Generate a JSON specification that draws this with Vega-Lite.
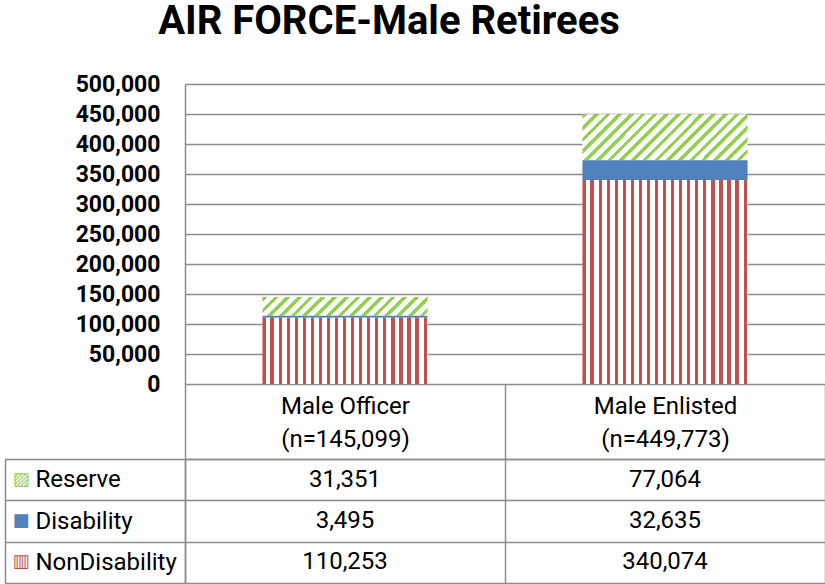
{
  "$schema": "https://vega.github.io/schema/vega-lite/v6.json",
  "background": "white",
  "padding": {"left": 4, "top": 2, "right": 0, "bottom": 0},
  "spacing": -13,
  "title": {"text": "AIR FORCE-Male Retirees", "font": "Roboto", "fontSize": 40, "fontWeight": "bold", "color": "#000000", "anchor": "middle", "dx": -26, "offset": 31},
  "data": {"values": [
    {"group": "Male Officer\n(n=145,099)", "series": "Reserve", "value": 31351, "rank": 1},
    {"group": "Male Officer\n(n=145,099)", "series": "Disability", "value": 3495, "rank": 2},
    {"group": "Male Officer\n(n=145,099)", "series": "NonDisability", "value": 110253, "rank": 3},
    {"group": "Male Enlisted\n(n=449,773)", "series": "Reserve", "value": 77064, "rank": 1},
    {"group": "Male Enlisted\n(n=449,773)", "series": "Disability", "value": 32635, "rank": 2},
    {"group": "Male Enlisted\n(n=449,773)", "series": "NonDisability", "value": 340074, "rank": 3}
  ]},
  "vconcat": [
    {
      "width": 640,
      "height": 300,
      "mark": {"type": "bar", "strokeWidth": 0},
      "encoding": {
        "x": {"field": "group", "type": "nominal", "sort": null, "axis": null, "scale": {"paddingInner": 0.484, "paddingOuter": 0.242}},
        "y": {"field": "value", "type": "quantitative", "stack": "zero", "scale": {"domain": [0, 500000], "nice": false},
          "axis": {"values": [0, 50000, 100000, 150000, 200000, 250000, 300000, 350000, 400000, 450000, 500000], "labelExpr": "format(datum.value, ',')", "title": null, "grid": true, "gridColor": "#8C8C8C", "gridWidth": 1.5, "domain": true, "domainColor": "#8C8C8C", "domainWidth": 1.5, "ticks": false, "tickSize": 0, "labelPadding": 25, "labelFont": "Roboto", "labelFontSize": 23, "labelFontWeight": "bold", "labelColor": "#000000", "labelOverlap": false}},
        "detail": {"field": "series"},
        "order": {"field": "rank", "sort": "descending"},
        "fill": {
          "condition": [
            {"test": "datum.series === 'NonDisability'", "value": {"gradient": "linear", "x1": 0, "y1": 0, "x2": 1, "y2": 0, "stops": [
              {"offset": 0, "color": "#C0504D"}, {"offset": 0.0195, "color": "#C0504D"}, {"offset": 0.0195, "color": "#FFFFFF"}, {"offset": 0.0488, "color": "#FFFFFF"},
              {"offset": 0.0488, "color": "#C0504D"}, {"offset": 0.0683, "color": "#C0504D"}, {"offset": 0.0683, "color": "#FFFFFF"}, {"offset": 0.0976, "color": "#FFFFFF"},
              {"offset": 0.0976, "color": "#C0504D"}, {"offset": 0.1171, "color": "#C0504D"}, {"offset": 0.1171, "color": "#FFFFFF"}, {"offset": 0.1463, "color": "#FFFFFF"},
              {"offset": 0.1463, "color": "#C0504D"}, {"offset": 0.1658, "color": "#C0504D"}, {"offset": 0.1658, "color": "#FFFFFF"}, {"offset": 0.1951, "color": "#FFFFFF"},
              {"offset": 0.1951, "color": "#C0504D"}, {"offset": 0.2146, "color": "#C0504D"}, {"offset": 0.2146, "color": "#FFFFFF"}, {"offset": 0.2439, "color": "#FFFFFF"},
              {"offset": 0.2439, "color": "#C0504D"}, {"offset": 0.2634, "color": "#C0504D"}, {"offset": 0.2634, "color": "#FFFFFF"}, {"offset": 0.2927, "color": "#FFFFFF"},
              {"offset": 0.2927, "color": "#C0504D"}, {"offset": 0.3122, "color": "#C0504D"}, {"offset": 0.3122, "color": "#FFFFFF"}, {"offset": 0.3415, "color": "#FFFFFF"},
              {"offset": 0.3415, "color": "#C0504D"}, {"offset": 0.3610, "color": "#C0504D"}, {"offset": 0.3610, "color": "#FFFFFF"}, {"offset": 0.3902, "color": "#FFFFFF"},
              {"offset": 0.3902, "color": "#C0504D"}, {"offset": 0.4097, "color": "#C0504D"}, {"offset": 0.4097, "color": "#FFFFFF"}, {"offset": 0.4390, "color": "#FFFFFF"},
              {"offset": 0.4390, "color": "#C0504D"}, {"offset": 0.4585, "color": "#C0504D"}, {"offset": 0.4585, "color": "#FFFFFF"}, {"offset": 0.4878, "color": "#FFFFFF"},
              {"offset": 0.4878, "color": "#C0504D"}, {"offset": 0.5073, "color": "#C0504D"}, {"offset": 0.5073, "color": "#FFFFFF"}, {"offset": 0.5366, "color": "#FFFFFF"},
              {"offset": 0.5366, "color": "#C0504D"}, {"offset": 0.5561, "color": "#C0504D"}, {"offset": 0.5561, "color": "#FFFFFF"}, {"offset": 0.5854, "color": "#FFFFFF"},
              {"offset": 0.5854, "color": "#C0504D"}, {"offset": 0.6049, "color": "#C0504D"}, {"offset": 0.6049, "color": "#FFFFFF"}, {"offset": 0.6341, "color": "#FFFFFF"},
              {"offset": 0.6341, "color": "#C0504D"}, {"offset": 0.6536, "color": "#C0504D"}, {"offset": 0.6536, "color": "#FFFFFF"}, {"offset": 0.6829, "color": "#FFFFFF"},
              {"offset": 0.6829, "color": "#C0504D"}, {"offset": 0.7024, "color": "#C0504D"}, {"offset": 0.7024, "color": "#FFFFFF"}, {"offset": 0.7317, "color": "#FFFFFF"},
              {"offset": 0.7317, "color": "#C0504D"}, {"offset": 0.7512, "color": "#C0504D"}, {"offset": 0.7512, "color": "#FFFFFF"}, {"offset": 0.7805, "color": "#FFFFFF"},
              {"offset": 0.7805, "color": "#C0504D"}, {"offset": 0.8000, "color": "#C0504D"}, {"offset": 0.8000, "color": "#FFFFFF"}, {"offset": 0.8293, "color": "#FFFFFF"},
              {"offset": 0.8293, "color": "#C0504D"}, {"offset": 0.8488, "color": "#C0504D"}, {"offset": 0.8488, "color": "#FFFFFF"}, {"offset": 0.8780, "color": "#FFFFFF"},
              {"offset": 0.8780, "color": "#C0504D"}, {"offset": 0.8975, "color": "#C0504D"}, {"offset": 0.8975, "color": "#FFFFFF"}, {"offset": 0.9268, "color": "#FFFFFF"},
              {"offset": 0.9268, "color": "#C0504D"}, {"offset": 0.9463, "color": "#C0504D"}, {"offset": 0.9463, "color": "#FFFFFF"}, {"offset": 0.9756, "color": "#FFFFFF"},
              {"offset": 0.9756, "color": "#C0504D"}, {"offset": 0.9951, "color": "#C0504D"}, {"offset": 0.9951, "color": "#FFFFFF"}, {"offset": 1, "color": "#FFFFFF"}
            ]}},
            {"test": "datum.series === 'Reserve' && indexof(datum.group, 'Officer') >= 0", "value": {"gradient": "linear", "x1": 0, "y1": 0, "x2": 1.0997, "y2": 0.1254, "stops": [
              {"offset": 0, "color": "#92D050"}, {"offset": 0.0255, "color": "#92D050"}, {"offset": 0.0255, "color": "#FFFFFF"}, {"offset": 0.0637, "color": "#FFFFFF"},
              {"offset": 0.0637, "color": "#92D050"}, {"offset": 0.0892, "color": "#92D050"}, {"offset": 0.0892, "color": "#FFFFFF"}, {"offset": 0.1274, "color": "#FFFFFF"},
              {"offset": 0.1274, "color": "#92D050"}, {"offset": 0.1529, "color": "#92D050"}, {"offset": 0.1529, "color": "#FFFFFF"}, {"offset": 0.1911, "color": "#FFFFFF"},
              {"offset": 0.1911, "color": "#92D050"}, {"offset": 0.2166, "color": "#92D050"}, {"offset": 0.2166, "color": "#FFFFFF"}, {"offset": 0.2548, "color": "#FFFFFF"},
              {"offset": 0.2548, "color": "#92D050"}, {"offset": 0.2803, "color": "#92D050"}, {"offset": 0.2803, "color": "#FFFFFF"}, {"offset": 0.3185, "color": "#FFFFFF"},
              {"offset": 0.3185, "color": "#92D050"}, {"offset": 0.3440, "color": "#92D050"}, {"offset": 0.3440, "color": "#FFFFFF"}, {"offset": 0.3822, "color": "#FFFFFF"},
              {"offset": 0.3822, "color": "#92D050"}, {"offset": 0.4077, "color": "#92D050"}, {"offset": 0.4077, "color": "#FFFFFF"}, {"offset": 0.4459, "color": "#FFFFFF"},
              {"offset": 0.4459, "color": "#92D050"}, {"offset": 0.4714, "color": "#92D050"}, {"offset": 0.4714, "color": "#FFFFFF"}, {"offset": 0.5096, "color": "#FFFFFF"},
              {"offset": 0.5096, "color": "#92D050"}, {"offset": 0.5351, "color": "#92D050"}, {"offset": 0.5351, "color": "#FFFFFF"}, {"offset": 0.5733, "color": "#FFFFFF"},
              {"offset": 0.5733, "color": "#92D050"}, {"offset": 0.5988, "color": "#92D050"}, {"offset": 0.5988, "color": "#FFFFFF"}, {"offset": 0.6370, "color": "#FFFFFF"},
              {"offset": 0.6370, "color": "#92D050"}, {"offset": 0.6625, "color": "#92D050"}, {"offset": 0.6625, "color": "#FFFFFF"}, {"offset": 0.7007, "color": "#FFFFFF"},
              {"offset": 0.7007, "color": "#92D050"}, {"offset": 0.7262, "color": "#92D050"}, {"offset": 0.7262, "color": "#FFFFFF"}, {"offset": 0.7644, "color": "#FFFFFF"},
              {"offset": 0.7644, "color": "#92D050"}, {"offset": 0.7899, "color": "#92D050"}, {"offset": 0.7899, "color": "#FFFFFF"}, {"offset": 0.8281, "color": "#FFFFFF"},
              {"offset": 0.8281, "color": "#92D050"}, {"offset": 0.8536, "color": "#92D050"}, {"offset": 0.8536, "color": "#FFFFFF"}, {"offset": 0.8918, "color": "#FFFFFF"},
              {"offset": 0.8918, "color": "#92D050"}, {"offset": 0.9173, "color": "#92D050"}, {"offset": 0.9173, "color": "#FFFFFF"}, {"offset": 0.9555, "color": "#FFFFFF"},
              {"offset": 0.9555, "color": "#92D050"}, {"offset": 0.9810, "color": "#92D050"}, {"offset": 0.9810, "color": "#FFFFFF"}, {"offset": 1, "color": "#FFFFFF"}
            ]}},
            {"test": "datum.series === 'Reserve'", "value": {"gradient": "linear", "x1": 0, "y1": 0, "x2": 1.187, "y2": 0.332, "stops": [
              {"offset": 0, "color": "#92D050"}, {"offset": 0.0222, "color": "#92D050"}, {"offset": 0.0222, "color": "#FFFFFF"}, {"offset": 0.0556, "color": "#FFFFFF"},
              {"offset": 0.0556, "color": "#92D050"}, {"offset": 0.0778, "color": "#92D050"}, {"offset": 0.0778, "color": "#FFFFFF"}, {"offset": 0.1111, "color": "#FFFFFF"},
              {"offset": 0.1111, "color": "#92D050"}, {"offset": 0.1333, "color": "#92D050"}, {"offset": 0.1333, "color": "#FFFFFF"}, {"offset": 0.1667, "color": "#FFFFFF"},
              {"offset": 0.1667, "color": "#92D050"}, {"offset": 0.1889, "color": "#92D050"}, {"offset": 0.1889, "color": "#FFFFFF"}, {"offset": 0.2222, "color": "#FFFFFF"},
              {"offset": 0.2222, "color": "#92D050"}, {"offset": 0.2444, "color": "#92D050"}, {"offset": 0.2444, "color": "#FFFFFF"}, {"offset": 0.2778, "color": "#FFFFFF"},
              {"offset": 0.2778, "color": "#92D050"}, {"offset": 0.3000, "color": "#92D050"}, {"offset": 0.3000, "color": "#FFFFFF"}, {"offset": 0.3333, "color": "#FFFFFF"},
              {"offset": 0.3333, "color": "#92D050"}, {"offset": 0.3556, "color": "#92D050"}, {"offset": 0.3556, "color": "#FFFFFF"}, {"offset": 0.3889, "color": "#FFFFFF"},
              {"offset": 0.3889, "color": "#92D050"}, {"offset": 0.4111, "color": "#92D050"}, {"offset": 0.4111, "color": "#FFFFFF"}, {"offset": 0.4444, "color": "#FFFFFF"},
              {"offset": 0.4444, "color": "#92D050"}, {"offset": 0.4667, "color": "#92D050"}, {"offset": 0.4667, "color": "#FFFFFF"}, {"offset": 0.5000, "color": "#FFFFFF"},
              {"offset": 0.5000, "color": "#92D050"}, {"offset": 0.5222, "color": "#92D050"}, {"offset": 0.5222, "color": "#FFFFFF"}, {"offset": 0.5556, "color": "#FFFFFF"},
              {"offset": 0.5556, "color": "#92D050"}, {"offset": 0.5778, "color": "#92D050"}, {"offset": 0.5778, "color": "#FFFFFF"}, {"offset": 0.6111, "color": "#FFFFFF"},
              {"offset": 0.6111, "color": "#92D050"}, {"offset": 0.6333, "color": "#92D050"}, {"offset": 0.6333, "color": "#FFFFFF"}, {"offset": 0.6667, "color": "#FFFFFF"},
              {"offset": 0.6667, "color": "#92D050"}, {"offset": 0.6889, "color": "#92D050"}, {"offset": 0.6889, "color": "#FFFFFF"}, {"offset": 0.7222, "color": "#FFFFFF"},
              {"offset": 0.7222, "color": "#92D050"}, {"offset": 0.7444, "color": "#92D050"}, {"offset": 0.7444, "color": "#FFFFFF"}, {"offset": 0.7778, "color": "#FFFFFF"},
              {"offset": 0.7778, "color": "#92D050"}, {"offset": 0.8000, "color": "#92D050"}, {"offset": 0.8000, "color": "#FFFFFF"}, {"offset": 0.8333, "color": "#FFFFFF"},
              {"offset": 0.8333, "color": "#92D050"}, {"offset": 0.8556, "color": "#92D050"}, {"offset": 0.8556, "color": "#FFFFFF"}, {"offset": 0.8889, "color": "#FFFFFF"},
              {"offset": 0.8889, "color": "#92D050"}, {"offset": 0.9111, "color": "#92D050"}, {"offset": 0.9111, "color": "#FFFFFF"}, {"offset": 0.9444, "color": "#FFFFFF"},
              {"offset": 0.9444, "color": "#92D050"}, {"offset": 0.9667, "color": "#92D050"}, {"offset": 0.9667, "color": "#FFFFFF"}, {"offset": 1, "color": "#FFFFFF"}
            ]}}
          ],
          "value": "#4F81BD"
        }
      }
    },
    {
      "width": 640,
      "height": 124,
      "layer": [
        {
          "mark": {"type": "text", "font": "Roboto", "fontSize": 24, "fill": "#000000", "baseline": "middle"},
          "encoding": {
            "x": {"field": "group", "type": "nominal", "sort": null, "scale": {"paddingInner": 0, "paddingOuter": 0},
              "axis": {"orient": "top", "title": null, "tickBand": "extent", "ticks": true, "tickSize": 75, "tickColor": "#8C8C8C", "tickWidth": 1.5, "grid": true, "gridColor": "#8C8C8C", "gridWidth": 1.5, "domain": true, "domainColor": "#8C8C8C", "domainWidth": 1.5, "labelExpr": "datum.value ? split(datum.value, '\\n') : ''", "labelFont": "Roboto", "labelFontSize": 24, "labelColor": "#000000", "labelLineHeight": 33, "labelBaseline": "alphabetic", "labelPadding": -29, "labelAngle": 0, "labelOverlap": false}},
            "y": {"field": "series", "type": "nominal", "sort": ["Reserve", "Disability", "NonDisability"], "scale": {"paddingInner": 0, "paddingOuter": 0},
              "axis": {"orient": "left", "title": null, "tickBand": "extent", "ticks": true, "tickSize": 180, "tickColor": "#8C8C8C", "tickWidth": 1.5, "grid": true, "gridColor": "#8C8C8C", "gridWidth": 1.5, "domain": true, "domainColor": "#8C8C8C", "domainWidth": 1.5, "labelAlign": "left", "labelBaseline": "middle", "labelPadding": -30, "labelFont": "Roboto", "labelFontSize": 24, "labelColor": "#000000", "labelOverlap": false}},
            "text": {"field": "value", "type": "quantitative", "format": ","}
          }
        },
        {
          "mark": {"type": "text", "text": ""},
          "encoding": {
            "y": {"field": "series", "type": "nominal", "sort": ["Reserve", "Disability", "NonDisability"],
              "axis": {"orient": "left", "offset": 180, "title": null, "ticks": false, "tickSize": 0, "grid": false, "domain": true, "domainColor": "#8C8C8C", "domainWidth": 1.5, "labelExpr": "datum.value === 'Reserve' ? '▨' : datum.value === 'Disability' ? '■' : '▥'", "labelAlign": "left", "labelBaseline": "middle", "labelPadding": -7, "labelFont": "DejaVu Sans", "labelFontSize": 18, "labelOverlap": false,
                "labelColor": {"condition": [{"test": "datum.value === 'Reserve'", "value": "#92D050"}, {"test": "datum.value === 'Disability'", "value": "#4F81BD"}], "value": "#C0504D"}}}
          }
        }
      ],
      "resolve": {"axis": {"y": "independent"}}
    }
  ],
  "config": {"view": {"stroke": null}, "axis": {"labelFont": "Roboto"}}
}
